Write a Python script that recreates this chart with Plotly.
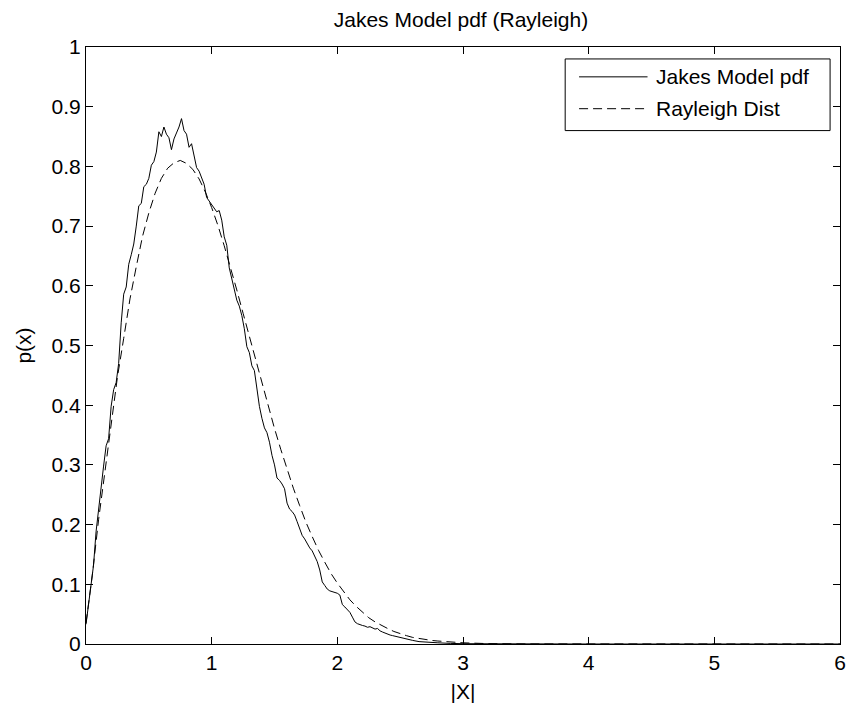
import plotly.graph_objects as go

# ---------------- data ----------------
jakes_x = [0.00, 0.02, 0.04, 0.06, 0.08, 0.10, 0.12, 0.14, 0.16, 0.18,
           0.20, 0.22, 0.24, 0.26, 0.28, 0.30, 0.32, 0.34, 0.36, 0.38,
           0.40, 0.42, 0.44, 0.46, 0.48, 0.50, 0.52, 0.54, 0.56, 0.58,
           0.60, 0.62, 0.64, 0.66, 0.68, 0.70, 0.72, 0.74, 0.76, 0.78,
           0.80, 0.82, 0.84, 0.86, 0.88, 0.90, 0.92, 0.94, 0.96, 0.98,
           1.00, 1.02, 1.04, 1.06, 1.08, 1.10, 1.12, 1.14, 1.16, 1.18,
           1.20, 1.22, 1.24, 1.26, 1.28, 1.30, 1.32, 1.34, 1.36, 1.38,
           1.40, 1.42, 1.44, 1.46, 1.48, 1.50, 1.52, 1.54, 1.56, 1.58,
           1.60, 1.62, 1.64, 1.66, 1.68, 1.70, 1.72, 1.74, 1.76, 1.78,
           1.80, 1.82, 1.84, 1.86, 1.88, 1.90, 1.92, 1.94, 1.96, 1.98,
           2.00, 2.02, 2.04, 2.06, 2.08, 2.10, 2.12, 2.14, 2.16, 2.18,
           2.20, 2.22, 2.24, 2.26, 2.28, 2.30, 2.32, 2.34, 2.36, 2.38,
           2.40, 2.42, 2.44, 2.46, 2.48, 2.50, 2.55, 2.60, 2.65, 2.70,
           2.80, 2.90, 3.00, 4.00, 5.00, 6.00]
jakes_pdf = [0.033, 0.068, 0.100, 0.132, 0.188, 0.228, 0.264, 0.298, 0.332, 0.344,
             0.398, 0.426, 0.438, 0.470, 0.538, 0.586, 0.598, 0.636, 0.652, 0.670,
             0.700, 0.734, 0.738, 0.766, 0.770, 0.780, 0.802, 0.808, 0.824, 0.858,
             0.850, 0.866, 0.854, 0.848, 0.828, 0.846, 0.856, 0.866, 0.880, 0.860,
             0.854, 0.832, 0.838, 0.820, 0.798, 0.792, 0.780, 0.770, 0.748, 0.742,
             0.734, 0.729, 0.724, 0.726, 0.710, 0.682, 0.668, 0.630, 0.612, 0.594,
             0.576, 0.566, 0.550, 0.528, 0.498, 0.488, 0.466, 0.458, 0.428, 0.398,
             0.378, 0.362, 0.354, 0.338, 0.316, 0.300, 0.278, 0.274, 0.268, 0.260,
             0.236, 0.226, 0.222, 0.216, 0.205, 0.192, 0.182, 0.176, 0.168, 0.161,
             0.156, 0.148, 0.138, 0.124, 0.104, 0.098, 0.092, 0.089, 0.088, 0.087,
             0.085, 0.082, 0.066, 0.062, 0.057, 0.053, 0.045, 0.037, 0.034, 0.032,
             0.031, 0.030, 0.028, 0.029, 0.027, 0.025, 0.026, 0.022, 0.020, 0.018,
             0.017, 0.015, 0.014, 0.013, 0.012, 0.010, 0.008, 0.006, 0.004, 0.003,
             0.002, 0.001, 0.0005, 0.0, 0.0, 0.0]

rayleigh_x = [0.00, 0.05, 0.10, 0.15, 0.20, 0.25, 0.30, 0.35, 0.40, 0.45,
              0.50, 0.55, 0.60, 0.65, 0.70, 0.75, 0.80, 0.85, 0.90, 0.95,
              1.00, 1.05, 1.10, 1.15, 1.20, 1.25, 1.30, 1.35, 1.40, 1.45,
              1.50, 1.55, 1.60, 1.65, 1.70, 1.75, 1.80, 1.85, 1.90, 1.95,
              2.00, 2.05, 2.10, 2.15, 2.20, 2.25, 2.30, 2.35, 2.40, 2.45,
              2.50, 2.55, 2.60, 2.65, 2.70, 2.75, 2.80, 2.85, 2.90, 2.95,
              3.00, 3.20, 3.50, 6.00]
rayleigh_pdf = [0.035, 0.115, 0.208, 0.290, 0.372, 0.447, 0.512, 0.578, 0.632, 0.683,
                0.722, 0.755, 0.780, 0.797, 0.806, 0.810, 0.805, 0.795, 0.779, 0.757,
                0.731, 0.701, 0.667, 0.631, 0.593, 0.554, 0.515, 0.475, 0.436, 0.398,
                0.361, 0.326, 0.292, 0.261, 0.232, 0.204, 0.180, 0.157, 0.137, 0.118,
                0.102, 0.087, 0.074, 0.063, 0.053, 0.044, 0.037, 0.031, 0.026, 0.021,
                0.017, 0.014, 0.011, 0.009, 0.007, 0.006, 0.005, 0.004, 0.003, 0.002,
                0.002, 0.0006, 0.0001, 0.0]

x_tick_vals = [0, 1, 2, 3, 4, 5, 6]
x_tick_text = ["0", "1", "2", "3", "4", "5", "6"]
y_tick_vals = [0, 0.1, 0.2, 0.3, 0.4, 0.5, 0.6, 0.7, 0.8, 0.9, 1]
y_tick_text = ["0", "0.1", "0.2", "0.3", "0.4", "0.5", "0.6", "0.7", "0.8", "0.9", "1"]

series_names = ["Jakes Model pdf", "Rayleigh Dist"]

# ---------------- figure ----------------
W, H = 855, 709
ML, MR, MT, MB = 86, 9, 47, 62
FONT = "Liberation Sans, Arial, Helvetica, sans-serif"
FS = 21
DASH = "9px,5px"

fig = go.Figure()
fig.add_trace(go.Scatter(x=jakes_x, y=jakes_pdf, mode="lines", name=series_names[0],
                         line=dict(color="black", width=1), showlegend=False))
fig.add_trace(go.Scatter(x=rayleigh_x, y=rayleigh_pdf, mode="lines", name=series_names[1],
                         line=dict(color="black", width=1, dash=DASH), showlegend=False))

pw = W - ML - MR
ph = H - MT - MB


def px(xp):
    return (xp - ML) / pw


def py(yp):
    return (H - MB - yp) / ph


# legend drawn as a MATLAB-style box
LX0, LX1, LY0, LY1 = 569, 836, 59, 131
rows = [77, 109]
shapes = [dict(type="rect", xref="paper", yref="paper",
               x0=px(LX0), x1=px(LX1), y0=py(LY1), y1=py(LY0),
               line=dict(color="black", width=1), fillcolor="white", layer="above")]
dashes = ["solid", DASH]
annotations = []
for r, name, d in zip(rows, series_names, dashes):
    shapes.append(dict(type="line", xref="paper", yref="paper",
                       x0=px(583), x1=px(652), y0=py(r), y1=py(r),
                       line=dict(color="black", width=1, dash=d), layer="above"))
    annotations.append(dict(xref="paper", yref="paper", x=px(659), y=py(r),
                            xanchor="left", yanchor="middle", text=name, showarrow=False,
                            font=dict(family=FONT, size=FS, color="black")))

axis_common = dict(showline=True, linecolor="black", linewidth=1, mirror="ticks",
                   ticks="inside", ticklen=7, tickcolor="black", tickwidth=1,
                   showgrid=False, zeroline=False,
                   tickfont=dict(family=FONT, size=FS, color="black"))

fig.update_layout(
    width=W, height=H,
    margin=dict(l=ML, r=MR, t=MT, b=MB, pad=0),
    paper_bgcolor="white", plot_bgcolor="white",
    font=dict(family=FONT, size=FS, color="black"),
    title=dict(text="Jakes Model pdf (Rayleigh)", x=461 / W, xanchor="center",
               y=1 - 20 / H, yanchor="middle", yref="container",
               font=dict(family=FONT, size=FS, color="black")),
    xaxis=dict(range=[0, 6], tickvals=x_tick_vals, ticktext=x_tick_text,
               title=dict(text="|X|", standoff=11, font=dict(family=FONT, size=FS)),
               **axis_common),
    yaxis=dict(range=[0, 1], tickvals=y_tick_vals, ticktext=y_tick_text,
               title=dict(text="p(x)", standoff=14, font=dict(family=FONT, size=FS)),
               **axis_common),
    shapes=shapes,
    annotations=annotations,
    showlegend=False,
)

fig.write_html("out.html")
